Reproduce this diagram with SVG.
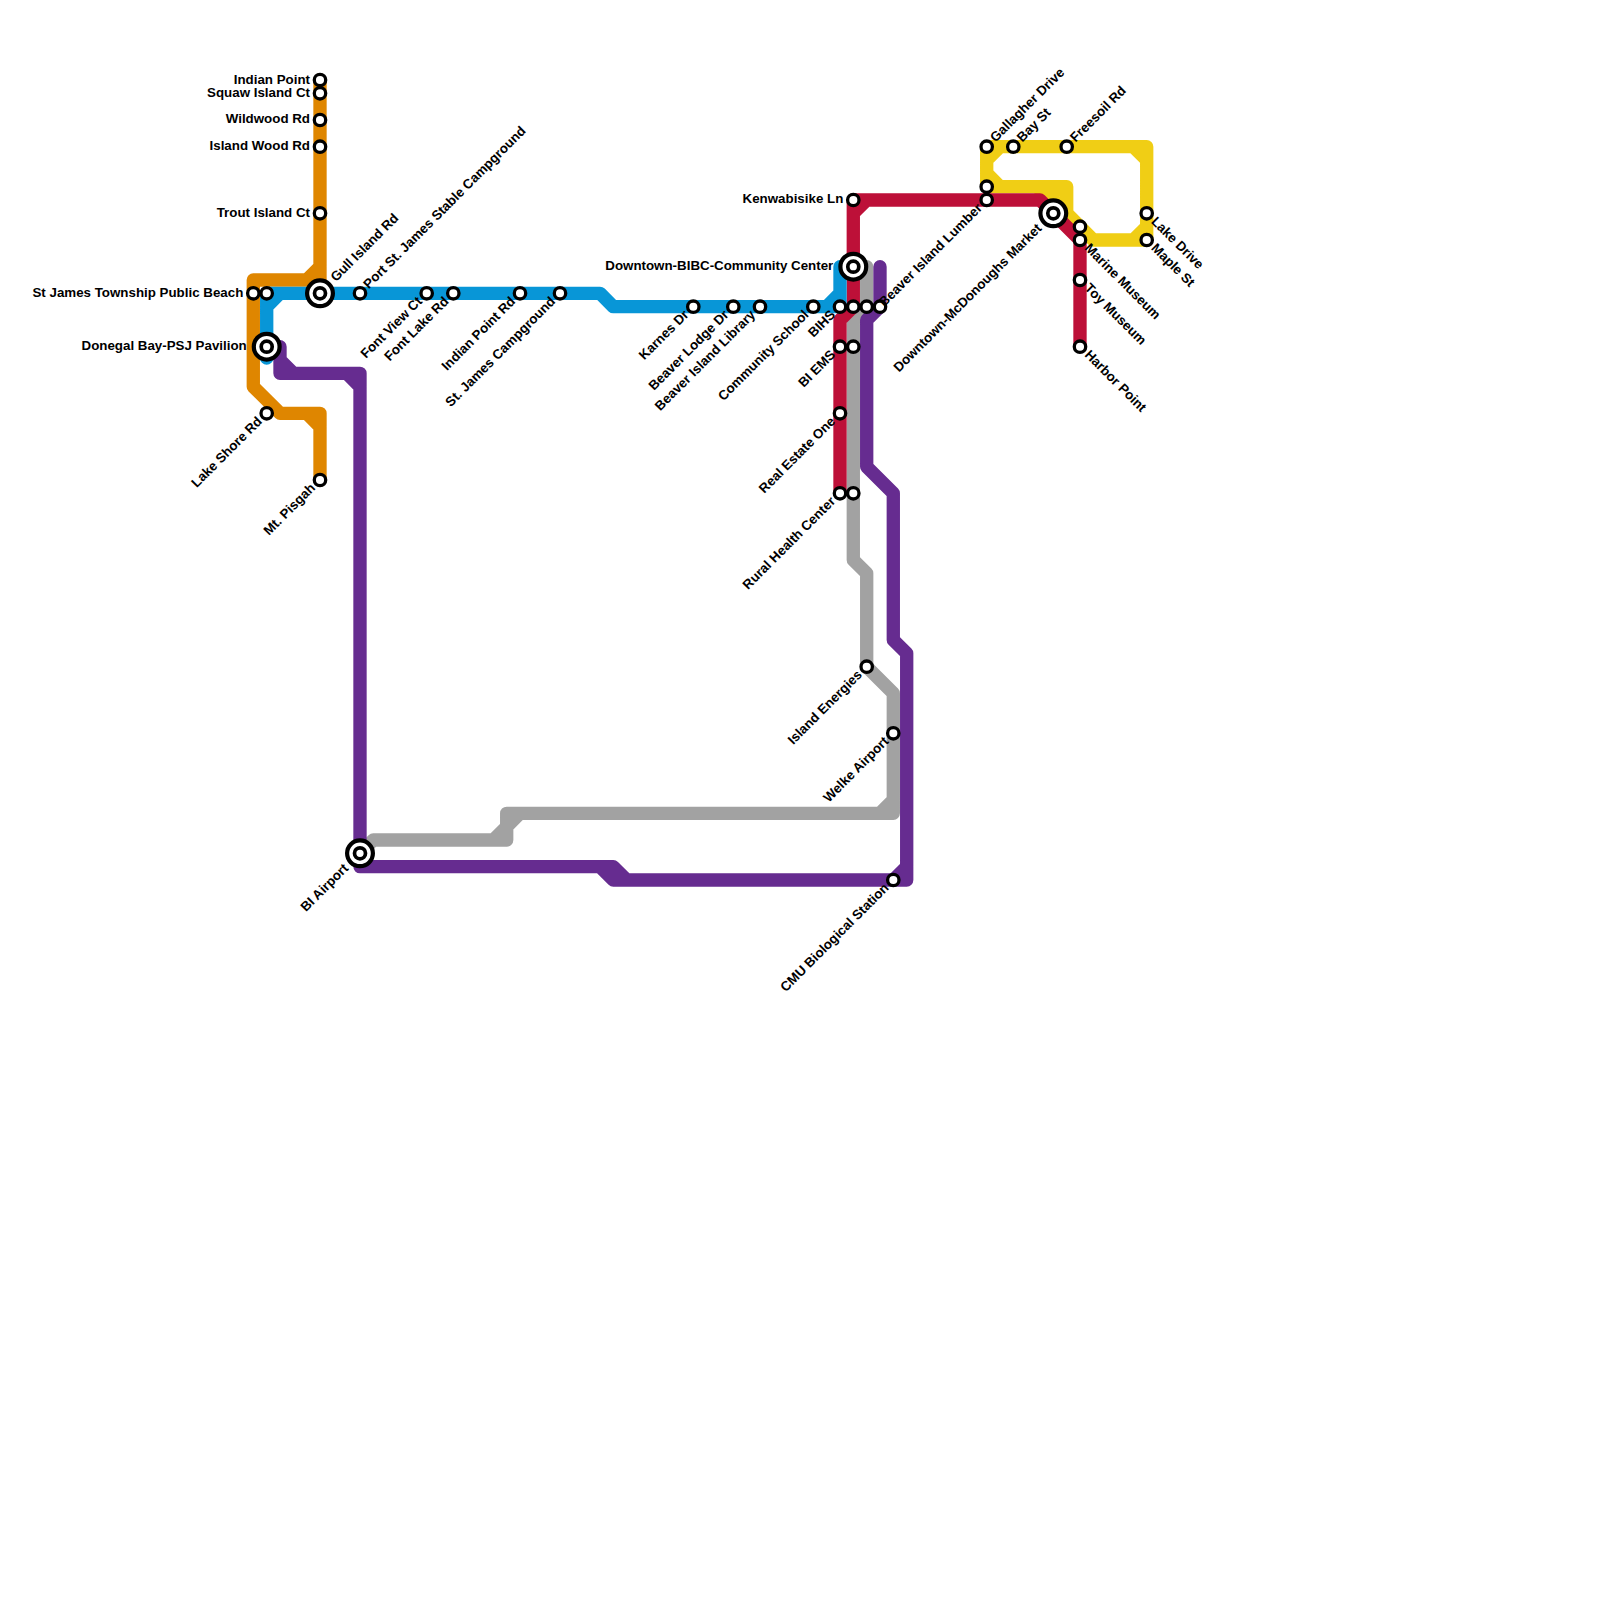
<svg xmlns="http://www.w3.org/2000/svg" width="1600" height="1600" viewBox="0 0 1600 1600">
<style>
.l{fill:none;stroke-width:13.33;stroke-linejoin:round;stroke-linecap:round}
.o{stroke:#df8600}.b{stroke:#0896d7}.p{stroke:#662c90}.g{stroke:#a2a2a2}.r{stroke:#bd1038}.y{stroke:#f0ce15}
.s{fill:#fff;stroke:#000;stroke-width:3.3}
.i{fill:#fff;stroke:#000;stroke-width:4.2}
.c{fill:#fff;stroke:#000;stroke-width:3.7}
text{font-family:"Liberation Sans",Arial,sans-serif;font-size:13.33px;font-weight:700;fill:#000}
.e{text-anchor:end}
</style>
<rect width="1600" height="1600" fill="#fff"/>
<g id="connectors">
<path class="l y" d="M986.7 186.7V146.7H1146.7V240H1093.3L1066.7 213.3V186.7H986.7M986.7 173.3L1000 186.7M986.7 160L1000 146.7M1133.3 146.7L1146.7 160M1133.3 240L1146.7 226.7M1040 186.7L1066.7 213.3M1040 190H1060"/>
<path class="l g" d="M853.3 266.7H866.7V306.7L853.3 320V560L866.7 573.3V666.7L893.3 693.3V813.3H506.7V840H373.3L360 853.3M880 813.3L893.3 800M493.3 840L506.7 826.7L520 813.3"/>
<path class="l r" d="M853.3 306.7V200H1040L1080 240V346.7M853.3 213.3L866.7 200M853.3 306.7L840 320V493.3"/>
<path class="l o" d="M320 80V293.3M320 266.7L306.7 280H253.3V386.7L280 413.3H320V480M306.7 413.3L320 426.7"/>
<path class="l b" d="M266.7 358V293.3H586.7M266.7 306.7L280 293.3M586.7 293.3H600L613.3 306.7H840V266.7H853.3M826.7 306.7L840 293.3"/>
<path class="l p" d="M280 346.7V373.3H360V853.3V866.7H600L613.3 880H906.7V653.3L893.3 640V493.3L866.7 466.7V320L880 306.7V266.7M280 360L293.3 373.3M346.7 373.3L360 386.7M613.3 866.7L626.7 880M600 866.7H613.3M893.3 880L906.7 866.7"/>
</g>
<g id="stations">
<g id="n-indian-point"><circle class="s" cx="320" cy="80" r="5.7"/><text class="e" x="310" y="83.5">Indian Point</text></g>
<g id="n-squaw"><circle class="s" cx="320" cy="93.3" r="5.7"/><text class="e" x="310" y="96.5">Squaw Island Ct</text></g>
<g id="n-wildwood"><circle class="s" cx="320" cy="120" r="5.7"/><text class="e" x="310" y="123">Wildwood Rd</text></g>
<g id="n-island-wood"><circle class="s" cx="320" cy="146.7" r="5.7"/><text class="e" x="310" y="149.5">Island Wood Rd</text></g>
<g id="n-trout"><circle class="s" cx="320" cy="213.3" r="5.7"/><text class="e" x="310" y="216.5">Trout Island Ct</text></g>
<g id="n-beach"><circle class="s" cx="253.3" cy="293.3" r="5.7"/><text class="e" x="243.3" y="296.5">St James Township Public Beach</text></g>
<g id="n-beach2"><circle class="s" cx="266.7" cy="293.3" r="5.7"/></g>
<g id="n-gull"><circle class="i" cx="320" cy="293.3" r="12.9"/><circle class="c" cx="320" cy="293.3" r="5.5"/><text transform="translate(320 293.3) rotate(-45)" x="19" y="3.5">Gull Island Rd</text></g>
<g id="n-port"><circle class="s" cx="360" cy="293.3" r="5.7"/><text transform="translate(360 293.3) rotate(-45)" x="9" y="3.5">Port St. James Stable Campground</text></g>
<g id="n-font-view"><circle class="s" cx="426.7" cy="293.3" r="5.7"/><text class="e" transform="translate(426.7 293.3) rotate(-45)" x="-9" y="3.5">Font View Ct</text></g>
<g id="n-font-lake"><circle class="s" cx="453.3" cy="293.3" r="5.7"/><text class="e" transform="translate(453.3 293.3) rotate(-45)" x="-9" y="3.5">Font Lake Rd</text></g>
<g id="n-indian-rd"><circle class="s" cx="520" cy="293.3" r="5.7"/><text class="e" transform="translate(520 293.3) rotate(-45)" x="-9" y="3.5">Indian Point Rd</text></g>
<g id="n-st-james"><circle class="s" cx="560" cy="293.3" r="5.7"/><text class="e" transform="translate(560 293.3) rotate(-45)" x="-9" y="3.5">St. James Campground</text></g>
<g id="n-karnes"><circle class="s" cx="693.3" cy="306.7" r="5.7"/><text class="e" transform="translate(693.3 306.7) rotate(-45)" x="-9" y="3.5">Karnes Dr</text></g>
<g id="n-lodge"><circle class="s" cx="733.3" cy="306.7" r="5.7"/><text class="e" transform="translate(733.3 306.7) rotate(-45)" x="-9" y="3.5">Beaver Lodge Dr</text></g>
<g id="n-library"><circle class="s" cx="760" cy="306.7" r="5.7"/><text class="e" transform="translate(760 306.7) rotate(-45)" x="-9" y="3.5">Beaver Island Library</text></g>
<g id="n-school"><circle class="s" cx="813.3" cy="306.7" r="5.7"/><text class="e" transform="translate(813.3 306.7) rotate(-45)" x="-9" y="3.5">Community School</text></g>
<g id="n-bihs"><circle class="s" cx="840" cy="306.7" r="5.7"/><text class="e" transform="translate(840 306.7) rotate(-45)" x="-9" y="3.5">BIHS</text></g>
<g id="n-x1"><circle class="s" cx="853.3" cy="306.7" r="5.7"/></g>
<g id="n-x2"><circle class="s" cx="866.7" cy="306.7" r="5.7"/></g>
<g id="n-x3"><circle class="s" cx="880" cy="306.7" r="5.7"/></g>
<g id="n-ems"><circle class="s" cx="840" cy="346.7" r="5.7"/><text class="e" transform="translate(840 346.7) rotate(-45)" x="-9" y="3.5">BI EMS</text></g>
<g id="n-ems2"><circle class="s" cx="853.3" cy="346.7" r="5.7"/></g>
<g id="n-real"><circle class="s" cx="840" cy="413.3" r="5.7"/><text class="e" transform="translate(840 413.3) rotate(-45)" x="-9" y="3.5">Real Estate One</text></g>
<g id="n-rural"><circle class="s" cx="840" cy="493.3" r="5.7"/><text class="e" transform="translate(840 493.3) rotate(-45)" x="-9" y="3.5">Rural Health Center</text></g>
<g id="n-rural2"><circle class="s" cx="853.3" cy="493.3" r="5.7"/></g>
<g id="n-energies"><circle class="s" cx="866.7" cy="666.7" r="5.7"/><text class="e" transform="translate(866.7 666.7) rotate(-45)" x="-9" y="3.5">Island Energies</text></g>
<g id="n-welke"><circle class="s" cx="893.3" cy="733.3" r="5.7"/><text class="e" transform="translate(893.3 733.3) rotate(-45)" x="-9" y="3.5">Welke Airport</text></g>
<g id="n-cmu"><circle class="s" cx="893.3" cy="880" r="5.7"/><text class="e" transform="translate(893.3 880) rotate(-45)" x="-9" y="3.5">CMU Biological Station</text></g>
<g id="n-airport"><circle class="i" cx="360" cy="853.3" r="12.9"/><circle class="c" cx="360" cy="853.3" r="5.5"/><text class="e" transform="translate(360 853.3) rotate(-45)" x="-19" y="3.5">BI Airport</text></g>
<g id="n-shore"><circle class="s" cx="266.7" cy="413.3" r="5.7"/><text class="e" transform="translate(266.7 413.3) rotate(-45)" x="-9" y="3.5">Lake Shore Rd</text></g>
<g id="n-pisgah"><circle class="s" cx="320" cy="480" r="5.7"/><text class="e" transform="translate(320 480) rotate(-45)" x="-9" y="3.5">Mt. Pisgah</text></g>
<g id="n-donegal"><circle class="i" cx="266.7" cy="346.7" r="12.9"/><circle class="c" cx="266.7" cy="346.7" r="5.5"/><text class="e" x="246.7" y="349.5">Donegal Bay-PSJ Pavilion</text></g>
<g id="n-kenwa"><circle class="s" cx="853.3" cy="200" r="5.7"/><text class="e" x="843.3" y="203">Kenwabisike Ln</text></g>
<g id="n-downtown"><circle class="i" cx="853.3" cy="266.7" r="12.9"/><circle class="c" cx="853.3" cy="266.7" r="5.5"/><text class="e" x="833.3" y="269.5">Downtown-BIBC-Community Center</text></g>
<g id="n-lumber"><circle class="s" cx="986.7" cy="200" r="5.7"/><text class="e" transform="translate(986.7 200) rotate(-45)" x="-9" y="3.5">Beaver Island Lumber</text></g>
<g id="n-y1"><circle class="s" cx="986.7" cy="186.7" r="5.7"/></g>
<g id="n-gallagher"><circle class="s" cx="986.7" cy="146.7" r="5.7"/><text transform="translate(986.7 146.7) rotate(-45)" x="9" y="3.5">Gallagher Drive</text></g>
<g id="n-bay"><circle class="s" cx="1013.3" cy="146.7" r="5.7"/><text transform="translate(1013.3 146.7) rotate(-45)" x="9" y="3.5">Bay St</text></g>
<g id="n-freesoil"><circle class="s" cx="1066.7" cy="146.7" r="5.7"/><text transform="translate(1066.7 146.7) rotate(-45)" x="9" y="3.5">Freesoil Rd</text></g>
<g id="n-mcd"><circle class="i" cx="1053.3" cy="213.3" r="12.9"/><circle class="c" cx="1053.3" cy="213.3" r="5.5"/><text class="e" transform="translate(1053.3 213.3) rotate(-45)" x="-19" y="3.5">Downtown-McDonoughs Market</text></g>
<g id="n-y2"><circle class="s" cx="1080" cy="226.7" r="5.7"/></g>
<g id="n-marine"><circle class="s" cx="1080" cy="240" r="5.7"/><text transform="translate(1080 240) rotate(45)" x="9" y="3.5">Marine Museum</text></g>
<g id="n-toy"><circle class="s" cx="1080" cy="280" r="5.7"/><text transform="translate(1080 280) rotate(45)" x="9" y="3.5">Toy Museum</text></g>
<g id="n-harbor"><circle class="s" cx="1080" cy="346.7" r="5.7"/><text transform="translate(1080 346.7) rotate(45)" x="9" y="3.5">Harbor Point</text></g>
<g id="n-lake"><circle class="s" cx="1146.7" cy="213.3" r="5.7"/><text transform="translate(1146.7 213.3) rotate(45)" x="9" y="3.5">Lake Drive</text></g>
<g id="n-maple"><circle class="s" cx="1146.7" cy="240" r="5.7"/><text transform="translate(1146.7 240) rotate(45)" x="9" y="3.5">Maple St</text></g>
</g>
</svg>
